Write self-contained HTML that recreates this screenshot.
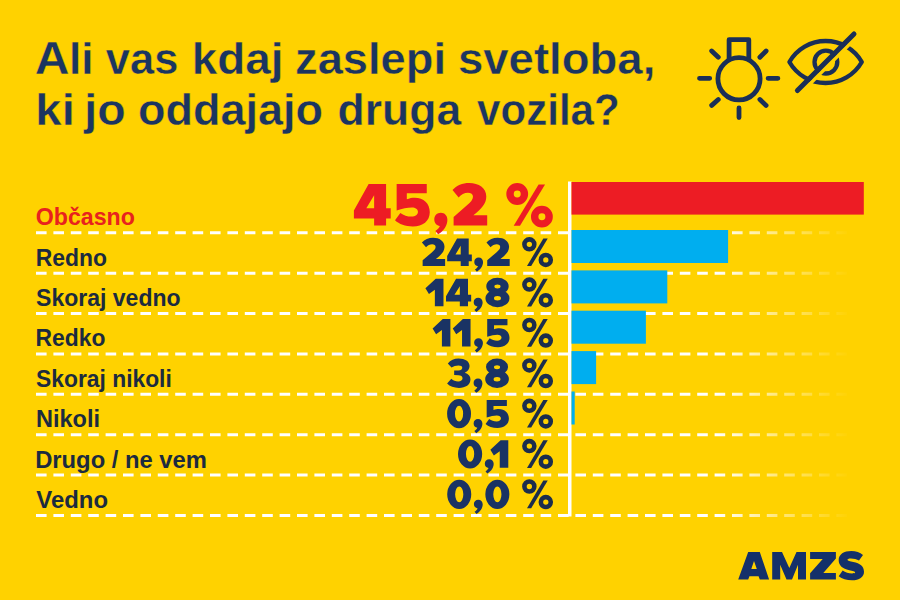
<!DOCTYPE html>
<html lang="sl"><head><meta charset="utf-8"><title>AMZS</title>
<style>
html,body{margin:0;padding:0;background:#ffd200;}
body{width:900px;height:600px;overflow:hidden;font-family:"Liberation Sans",sans-serif;}
svg{display:block}
text{font-family:"Liberation Sans",sans-serif;font-weight:bold}
</style></head><body>
<svg width="900" height="600" viewBox="0 0 900 600">
<defs>
<linearGradient id="fade" gradientUnits="userSpaceOnUse" x1="716" y1="0" x2="850" y2="0">
<stop offset="0" stop-color="#fff" stop-opacity="1"/><stop offset="0.45" stop-color="#fff" stop-opacity="0.5"/><stop offset="1" stop-color="#fff" stop-opacity="0"/>
</linearGradient>
<path id="g0" d="M0.0 50.0 A43.5 53.0 0 1 1 87.0 50.0 A43.5 53.0 0 1 1 0.0 50.0 Z M28.7 50.0 A14.8 28.8 0 1 0 58.3 50.0 A14.8 28.8 0 1 0 28.7 50.0 Z"/><path id="g1" d="M36.9 0 H64.6 V100 H33.8 V40 L12.7 55.4 L0 34.6 Z"/><path id="g2" d="M2.7 100 H84.7 V75.3 H51 C70 60 82.5 48 82.5 30.3 C82.5 10 64 -2.2 40.9 -2.2 C24 -2.2 10 4 0 14.6 L15 32.6 C21 26 29 21.3 37.5 21.3 C45 21.3 50 25 50 31 C50 38 44 44 36 51 L2.7 79.8 Z"/><path id="g3" d="M2.6 14.1 C12 3 26 -3.5 41.5 -3.5 C65 -3.5 81.5 7 81.5 24 C81.5 35 75 43 64 48 C77 52 84.7 60 84.7 72 C84.7 92 67 103.5 43 103.5 C25 103.5 10 98 0 87.5 L15.3 70 C22 76 31 80 40 80 C50 80 56 76 56 68.5 C56 61 50 57 41 57 L25.6 56 L25.6 39.6 L41 39.6 C50 39.6 55 36 55 30 C55 24.5 50 22 41 22 C32 22 23 24.5 16 29.4 Z"/><path id="g4" d="M36 0 H78.6 V58.4 H89.9 V83.1 H78.6 V100 H49.4 V83.1 H0 V64 Z M49.4 27 L30.3 58.4 H49.4 Z"/><path id="g5" d="M4 0 H77.5 V22.5 H28.8 V37 C35 34 42 33 48 33 C70 33 84.9 47 84.9 68 C84.9 89 68 102.2 43.4 102.2 C25 102.2 10 97 0 87.6 L13 69.7 C21 75 30 78.5 40 78.5 C50 78.5 56 74 56 67 C56 60.5 50 56.5 41 56.5 C30 56.5 18 59 4 64 Z"/><path id="g8" d="M3.0 27.0 A40.0 30.5 0 1 1 83.0 27.0 A40.0 30.5 0 1 1 3.0 27.0 Z M0.0 71.0 A43.0 32.5 0 1 1 86.0 71.0 A43.0 32.5 0 1 1 0.0 71.0 Z M32.0 28.5 A11.0 7.2 0 1 0 54.0 28.5 A11.0 7.2 0 1 0 32.0 28.5 Z M30.6 71.5 A12.4 8.2 0 1 0 55.4 71.5 A12.4 8.2 0 1 0 30.6 71.5 Z"/><path id="gc" d="M16 69.4 C25 69.4 32 76 32 86 C32 100 23 113 9.5 121 L2.5 113.5 C8.5 109 12.5 104.5 13.5 101 C6 100 0 94 0 85.4 C0 76 7 69.4 16 69.4 Z"/>
<g id="pctb"><circle cx="-23.85" cy="-21.2" r="4.8" fill="none" stroke-width="4.95"/><circle cx="-7.4" cy="-6.1" r="4.8" fill="none" stroke-width="4.95"/><path d="M-9.6 -27.5 H-5.3 L-22 0 H-26.2 Z" stroke="none"/></g>
<g id="pct"><circle cx="-23.85" cy="-21.6" r="4.95" fill="none" stroke-width="4.6"/><circle cx="-7.4" cy="-6" r="4.95" fill="none" stroke-width="4.6"/><path d="M-9.9 -27.5 H-5.45 L-22 0.2 H-26.2 Z" stroke="none"/></g>
</defs>
<rect width="900" height="600" fill="#ffd200"/>
<text transform="translate(34.69 74.00) scale(1.0392 1)" font-size="46.4" fill="#1b3560" stroke="#ffd200" stroke-width="0.4" stroke-linejoin="round">A</text>
<text transform="translate(69.00 74.00) scale(1.0000 1)" font-size="44.3" fill="#1b3560" stroke="#ffd200" stroke-width="0.4" stroke-linejoin="round">li</text>
<text transform="translate(105.81 74.00) scale(0.9811 1)" font-size="44.3" fill="#1b3560" stroke="#ffd200" stroke-width="0.4" stroke-linejoin="round">vas</text>
<text transform="translate(191.69 74.00) scale(1.0353 1)" font-size="44.3" fill="#1b3560" stroke="#ffd200" stroke-width="0.4" stroke-linejoin="round">kdaj</text>
<text transform="translate(295.01 74.00) scale(1.0221 1)" font-size="44.3" fill="#1b3560" stroke="#ffd200" stroke-width="0.4" stroke-linejoin="round">zaslepi</text>
<text transform="translate(458.00 74.00) scale(1.0276 1)" font-size="44.3" fill="#1b3560" stroke="#ffd200" stroke-width="0.4" stroke-linejoin="round">svetloba,</text>
<text transform="translate(35.32 125.00) scale(1.0708 1)" font-size="44.3" fill="#1b3560" stroke="#ffd200" stroke-width="0.4" stroke-linejoin="round">ki</text>
<text transform="translate(84.33 125.00) scale(1.0499 1)" font-size="44.3" fill="#1b3560" stroke="#ffd200" stroke-width="0.4" stroke-linejoin="round">jo</text>
<text transform="translate(138.02 125.00) scale(1.0163 1)" font-size="44.3" fill="#1b3560" stroke="#ffd200" stroke-width="0.4" stroke-linejoin="round">oddajajo</text>
<text transform="translate(337.54 125.00) scale(1.0054 1)" font-size="44.3" fill="#1b3560" stroke="#ffd200" stroke-width="0.4" stroke-linejoin="round">druga</text>
<text transform="translate(477.07 125.00) scale(0.9499 1)" font-size="44.3" fill="#1b3560" stroke="#ffd200" stroke-width="0.4" stroke-linejoin="round">vozila?</text>
<line x1="36" y1="232.8" x2="860" y2="232.8" stroke="url(#fade)" stroke-width="3" stroke-dasharray="10.6 6.8"/>
<line x1="36" y1="273.2" x2="860" y2="273.2" stroke="url(#fade)" stroke-width="3" stroke-dasharray="10.6 6.8"/>
<line x1="36" y1="313.5" x2="860" y2="313.5" stroke="url(#fade)" stroke-width="3" stroke-dasharray="10.6 6.8"/>
<line x1="36" y1="353.9" x2="860" y2="353.9" stroke="url(#fade)" stroke-width="3" stroke-dasharray="10.6 6.8"/>
<line x1="36" y1="394.3" x2="860" y2="394.3" stroke="url(#fade)" stroke-width="3" stroke-dasharray="10.6 6.8"/>
<line x1="36" y1="434.7" x2="860" y2="434.7" stroke="url(#fade)" stroke-width="3" stroke-dasharray="10.6 6.8"/>
<line x1="36" y1="475.0" x2="860" y2="475.0" stroke="url(#fade)" stroke-width="3" stroke-dasharray="10.6 6.8"/>
<line x1="36" y1="515.4" x2="860" y2="515.4" stroke="url(#fade)" stroke-width="3" stroke-dasharray="10.6 6.8"/>
<rect x="568" y="181.5" width="3.5" height="335" fill="#fff"/>
<rect x="571.5" y="182" width="292.3" height="32.6" fill="#ed1c24"/>
<rect x="571.5" y="230.0" width="156.6" height="33" fill="#00aeef"/>
<rect x="571.5" y="270.4" width="95.8" height="33" fill="#00aeef"/>
<rect x="571.5" y="310.7" width="74.4" height="33" fill="#00aeef"/>
<rect x="571.5" y="351.1" width="24.6" height="33" fill="#00aeef"/>
<rect x="571.5" y="391.5" width="3.2" height="33" fill="#00aeef"/>
<text transform="translate(35.74 225.00) scale(1.0078 1)" font-size="23" fill="#e8221e">Občasno</text>
<text transform="translate(35.71 266.00) scale(0.9964 1)" font-size="23" fill="#1c2b3f">Redno</text>
<text transform="translate(36.05 306.00) scale(1.0011 1)" font-size="23" fill="#1c2b3f">Skoraj vedno</text>
<text transform="translate(35.61 346.00) scale(0.9941 1)" font-size="23" fill="#1c2b3f">Redko</text>
<text transform="translate(36.06 387.00) scale(0.9933 1)" font-size="23" fill="#1c2b3f">Skoraj nikoli</text>
<text transform="translate(35.96 427.00) scale(1.0235 1)" font-size="23" fill="#1c2b3f">Nikoli</text>
<text transform="translate(35.15 468.00) scale(1.0346 1)" font-size="23" fill="#1c2b3f">Drugo / ne vem</text>
<text transform="translate(36.34 508.00) scale(1.0391 1)" font-size="23" fill="#1c2b3f">Vedno</text>
<g transform="translate(353.90 183.90) scale(0.4095 0.4160)" fill="#ed1c24"><use href="#g4" x="0.0"/><use href="#g5" x="100.4"/><use href="#gc" x="196.3"/><use href="#g2" x="240.8"/></g>
<text x="353.9" y="225.5" font-size="58" fill="none" textLength="199.1" lengthAdjust="spacingAndGlyphs">45,2 %</text>
<g transform="translate(553 225.8) scale(1.5)" fill="#ed1c24" stroke="#ed1c24"><use href="#pctb"/></g>
<g transform="translate(421.90 238.40) scale(0.2741 0.2750)" fill="#1a3364"><use href="#g2" x="0.0"/><use href="#g4" x="92.2"/><use href="#gc" x="191.1"/><use href="#g2" x="235.6"/></g>
<text x="421.9" y="265.9" font-size="38" fill="none" textLength="131.1" lengthAdjust="spacingAndGlyphs">24,2 %</text>
<g transform="translate(553.2 265.9)" fill="#1b2d4d" stroke="#1b2d4d"><use href="#pct"/></g>
<g transform="translate(425.40 278.70) scale(0.2799 0.2750)" fill="#1a3364"><use href="#g1" x="0.0"/><use href="#g4" x="73.6"/><use href="#gc" x="172.5"/><use href="#g8" x="214.5"/></g>
<text x="425.4" y="306.2" font-size="38" fill="none" textLength="127.6" lengthAdjust="spacingAndGlyphs">14,8 %</text>
<g transform="translate(553.2 306.2)" fill="#1b2d4d" stroke="#1b2d4d"><use href="#pct"/></g>
<g transform="translate(432.60 319.10) scale(0.2755 0.2750)" fill="#1a3364"><use href="#g1" x="0.0"/><use href="#g1" x="73.1"/><use href="#gc" x="150.7"/><use href="#g5" x="194.2"/></g>
<text x="432.6" y="346.6" font-size="38" fill="none" textLength="120.4" lengthAdjust="spacingAndGlyphs">11,5 %</text>
<g transform="translate(553.2 346.6)" fill="#1b2d4d" stroke="#1b2d4d"><use href="#pct"/></g>
<g transform="translate(447.10 359.50) scale(0.2759 0.2750)" fill="#1a3364"><use href="#g3" x="0.0"/><use href="#gc" x="96.0"/><use href="#g8" x="138.0"/></g>
<text x="447.1" y="387.0" font-size="38" fill="none" textLength="105.9" lengthAdjust="spacingAndGlyphs">3,8 %</text>
<g transform="translate(553.2 387.0)" fill="#1b2d4d" stroke="#1b2d4d"><use href="#pct"/></g>
<g transform="translate(447.10 399.90) scale(0.2748 0.2750)" fill="#1a3364"><use href="#g0" x="0.0"/><use href="#gc" x="96.5"/><use href="#g5" x="140.0"/></g>
<text x="447.1" y="427.4" font-size="38" fill="none" textLength="105.9" lengthAdjust="spacingAndGlyphs">0,5 %</text>
<g transform="translate(553.2 427.4)" fill="#1b2d4d" stroke="#1b2d4d"><use href="#pct"/></g>
<g transform="translate(458.00 440.20) scale(0.2777 0.2750)" fill="#1a3364"><use href="#g0" x="0.0"/><use href="#gc" x="96.5"/><use href="#g1" x="116.5"/></g>
<text x="458.0" y="467.7" font-size="38" fill="none" textLength="95.0" lengthAdjust="spacingAndGlyphs">0,1 %</text>
<g transform="translate(553.2 467.7)" fill="#1b2d4d" stroke="#1b2d4d"><use href="#pct"/></g>
<g transform="translate(447.20 480.60) scale(0.2764 0.2750)" fill="#1a3364"><use href="#g0" x="0.0"/><use href="#gc" x="96.5"/><use href="#g0" x="138.0"/></g>
<text x="447.2" y="508.1" font-size="38" fill="none" textLength="105.8" lengthAdjust="spacingAndGlyphs">0,0 %</text>
<g transform="translate(553.2 508.1)" fill="#1b2d4d" stroke="#1b2d4d"><use href="#pct"/></g>
<g fill="none" stroke="#1a2f57" stroke-width="4.8" stroke-linecap="round" stroke-linejoin="round">
<circle cx="739" cy="78.8" r="21.1"/>
<path d="M729.1 59 V39.7 H748.8 V59"/>
<path d="M699.5 78.3 H709.7 M768.1 78.3 H777.9 M739 108 V117.6 M711.7 51 L718.3 57.2 M766.1 51 L759.9 57.2 M711.7 105.4 L718.3 99.5 M766.1 105.4 L759.9 99.5"/>
</g>
<g fill="none" stroke="#1a2f57" stroke-width="4.3" stroke-linecap="round" stroke-linejoin="round">
<path d="M789.4 62 A41.7 41.7 0 0 1 861.8 62 A41.7 41.7 0 0 1 789.4 62 Z"/>
<circle cx="825.9" cy="62.1" r="11.4"/>
<path d="M856.9 36.8 L800.3 93.4" stroke="#ffd200" stroke-width="3.6" stroke-linecap="butt"/>
<path d="M854 33.9 L797.4 90.5" stroke-width="5"/>
</g>
<text x="738" y="579.5" font-size="40" fill="none" textLength="126" lengthAdjust="spacingAndGlyphs">AMZS</text>
<g fill="#14306a">
<path fill-rule="evenodd" d="M738.2 579.5 L748.2 552 H759.8 L769.1 579.5 H759.8 L758.6 576.2 H749.4 L748.2 579.5 Z M754 561.1 L751.3 569.1 H756.8 Z"/>
<path d="M772.2 579.5 V552 H782 L789.3 568 L796.5 552 H806 V579.5 H798 V564.7 L792 579.5 H786.5 L780.2 564.7 V579.5 Z"/>
<path d="M810.1 552 H835.9 V558.4 L823.3 572.9 H835.9 V579.5 H810.1 V573.3 L822.7 558.9 H810.1 Z"/>
<path transform="translate(832 545) scale(0.066667)" d="M465 150 L405 232 C370 212 320 200 275 202 C250 203 232 210 232 222 C232 238 270 245 320 255 C420 275 480 320 480 400 C480 480 410 530 300 530 C220 530 150 510 100 470 L160 383 C200 410 250 428 300 428 C330 428 348 422 348 410 C348 395 310 388 260 378 C160 355 100 310 100 225 C100 140 180 90 290 90 C360 90 420 110 465 150 Z"/>
</g>
</svg></body></html>
